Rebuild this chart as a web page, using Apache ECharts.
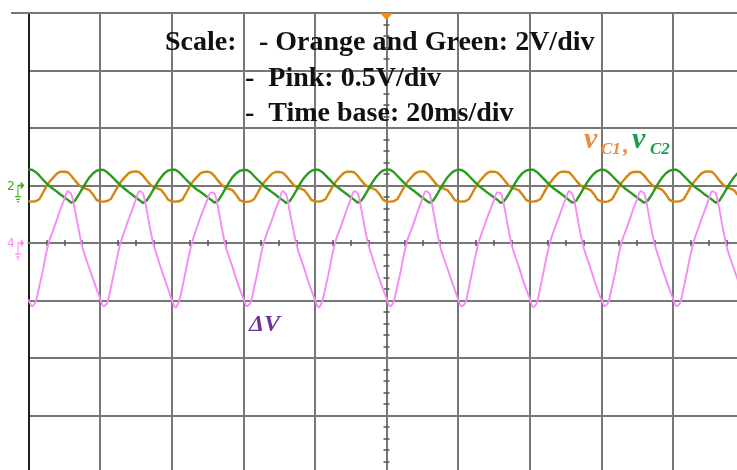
<!DOCTYPE html>
<html>
<head>
<meta charset="utf-8">
<title>Capacitor voltages and ΔV</title>
<script src="https://cdn.jsdelivr.net/npm/echarts@6.0.0/dist/echarts.min.js"></script>
<style>
  html, body { margin: 0; padding: 0; background: #ffffff; }
  #scope { width: 737px; height: 470px; }
</style>
</head>
<body>
<div id="scope"></div>
<script>
// Acquisition: one sample per millisecond, 0 .. 200 ms (10 divisions of 20 ms)
const SAMPLE_STEP_MS = 1;
const TIME_PER_DIV_MS = 20;
const DIVS_X = 10;
const DIVS_Y = 8;

// Channel settings
const VOLTS_PER_DIV_C = 2;      // orange and green
const VOLTS_PER_DIV_DV = 0.5;   // pink
const GROUND_DIV_C = 1;         // capacitor channels' ground, divisions above centre
const GROUND_DIV_DV = 0;        // ΔV ground at centre

// v_C1 (orange), volts, one row per 20 ms
const vC1 = [
  -0.55, -0.56, -0.55, -0.48, -0.26, -0.03, 0.15, 0.29, 0.42, 0.48, 0.48, 0.46, 0.33, 0.17, 0.03, -0.07, -0.11, -0.16, -0.31, -0.50,
  -0.56, -0.56, -0.54, -0.47, -0.25, -0.02, 0.16, 0.30, 0.43, 0.48, 0.49, 0.46, 0.34, 0.18, 0.04, -0.06, -0.10, -0.15, -0.30, -0.49,
  -0.55, -0.56, -0.55, -0.49, -0.27, -0.04, 0.15, 0.29, 0.42, 0.47, 0.48, 0.45, 0.32, 0.16, 0.02, -0.08, -0.12, -0.17, -0.32, -0.51,
  -0.56, -0.57, -0.55, -0.48, -0.26, -0.03, 0.14, 0.28, 0.41, 0.47, 0.47, 0.45, 0.33, 0.17, 0.03, -0.07, -0.11, -0.16, -0.31, -0.50,
  -0.55, -0.56, -0.54, -0.47, -0.25, -0.02, 0.16, 0.30, 0.43, 0.48, 0.48, 0.46, 0.33, 0.17, 0.03, -0.06, -0.10, -0.15, -0.30, -0.49,
  -0.56, -0.56, -0.55, -0.48, -0.26, -0.03, 0.15, 0.29, 0.42, 0.48, 0.49, 0.46, 0.34, 0.18, 0.03, -0.07, -0.11, -0.16, -0.31, -0.50,
  -0.55, -0.56, -0.55, -0.48, -0.26, -0.03, 0.15, 0.29, 0.42, 0.48, 0.48, 0.45, 0.33, 0.17, 0.02, -0.08, -0.12, -0.17, -0.32, -0.50,
  -0.56, -0.56, -0.54, -0.47, -0.25, -0.02, 0.15, 0.30, 0.43, 0.48, 0.48, 0.46, 0.33, 0.17, 0.03, -0.07, -0.11, -0.16, -0.31, -0.50,
  -0.55, -0.57, -0.55, -0.48, -0.26, -0.03, 0.15, 0.29, 0.42, 0.47, 0.48, 0.46, 0.34, 0.18, 0.04, -0.06, -0.10, -0.15, -0.30, -0.49,
  -0.56, -0.56, -0.55, -0.48, -0.27, -0.04, 0.14, 0.29, 0.42, 0.48, 0.49, 0.47, 0.34, 0.17, 0.03, -0.07, -0.11, -0.16, -0.31, -0.50,
  -0.55
];

// v_C2 (green), volts
const vC2 = [
  0.55, 0.55, 0.47, 0.35, 0.21, 0.08, -0.04, -0.13, -0.22, -0.32, -0.41, -0.50, -0.60, -0.53, -0.33, -0.12, 0.09, 0.28, 0.42, 0.51,
  0.55, 0.54, 0.46, 0.34, 0.22, 0.09, -0.03, -0.13, -0.23, -0.32, -0.42, -0.51, -0.61, -0.52, -0.34, -0.12, 0.10, 0.28, 0.43, 0.52,
  0.55, 0.55, 0.47, 0.34, 0.21, 0.08, -0.04, -0.14, -0.22, -0.31, -0.41, -0.50, -0.60, -0.52, -0.33, -0.11, 0.10, 0.29, 0.42, 0.51,
  0.54, 0.54, 0.46, 0.33, 0.20, 0.08, -0.05, -0.14, -0.23, -0.32, -0.42, -0.51, -0.61, -0.54, -0.35, -0.13, 0.09, 0.27, 0.41, 0.51,
  0.55, 0.55, 0.47, 0.35, 0.22, 0.09, -0.03, -0.12, -0.22, -0.31, -0.41, -0.50, -0.60, -0.52, -0.33, -0.12, 0.10, 0.28, 0.42, 0.52,
  0.56, 0.55, 0.47, 0.34, 0.21, 0.08, -0.04, -0.13, -0.22, -0.32, -0.42, -0.51, -0.60, -0.53, -0.34, -0.12, 0.09, 0.28, 0.42, 0.51,
  0.55, 0.54, 0.46, 0.34, 0.21, 0.08, -0.04, -0.13, -0.23, -0.32, -0.41, -0.50, -0.61, -0.52, -0.33, -0.12, 0.10, 0.29, 0.43, 0.52,
  0.55, 0.55, 0.47, 0.35, 0.22, 0.09, -0.04, -0.13, -0.22, -0.31, -0.41, -0.51, -0.60, -0.53, -0.33, -0.11, 0.10, 0.28, 0.42, 0.51,
  0.55, 0.54, 0.46, 0.34, 0.21, 0.08, -0.04, -0.14, -0.23, -0.32, -0.42, -0.51, -0.60, -0.52, -0.34, -0.12, 0.09, 0.28, 0.42, 0.51,
  0.55, 0.55, 0.47, 0.34, 0.21, 0.08, -0.04, -0.13, -0.22, -0.32, -0.41, -0.50, -0.60, -0.53, -0.33, -0.12, 0.10, 0.28, 0.42, 0.52,
  0.55
];

// ΔV (pink), volts
const deltaV = [
  -0.49, -0.55, -0.51, -0.38, -0.24, -0.08, 0.04, 0.12, 0.21, 0.30, 0.38, 0.45, 0.42, 0.28, 0.12, -0.03, -0.13, -0.22, -0.31, -0.40,
  -0.48, -0.55, -0.52, -0.39, -0.24, -0.09, 0.03, 0.12, 0.21, 0.29, 0.38, 0.45, 0.43, 0.29, 0.12, -0.02, -0.12, -0.22, -0.31, -0.40,
  -0.49, -0.56, -0.51, -0.38, -0.23, -0.08, 0.04, 0.13, 0.22, 0.30, 0.38, 0.44, 0.43, 0.30, 0.13, -0.02, -0.12, -0.21, -0.31, -0.40,
  -0.48, -0.55, -0.52, -0.39, -0.25, -0.09, 0.03, 0.12, 0.20, 0.29, 0.37, 0.45, 0.42, 0.27, 0.11, -0.03, -0.13, -0.22, -0.32, -0.41,
  -0.49, -0.56, -0.51, -0.38, -0.24, -0.08, 0.04, 0.12, 0.21, 0.30, 0.38, 0.45, 0.43, 0.29, 0.12, -0.02, -0.12, -0.22, -0.31, -0.40,
  -0.48, -0.55, -0.51, -0.38, -0.24, -0.08, 0.04, 0.12, 0.21, 0.30, 0.38, 0.45, 0.43, 0.29, 0.12, -0.03, -0.13, -0.22, -0.31, -0.40,
  -0.49, -0.55, -0.52, -0.39, -0.24, -0.09, 0.03, 0.12, 0.21, 0.29, 0.37, 0.44, 0.43, 0.30, 0.13, -0.02, -0.12, -0.21, -0.31, -0.40,
  -0.48, -0.56, -0.52, -0.38, -0.23, -0.08, 0.04, 0.13, 0.21, 0.30, 0.38, 0.45, 0.42, 0.28, 0.11, -0.03, -0.13, -0.22, -0.32, -0.41,
  -0.49, -0.55, -0.51, -0.38, -0.24, -0.08, 0.04, 0.12, 0.21, 0.30, 0.38, 0.45, 0.43, 0.29, 0.12, -0.02, -0.12, -0.22, -0.31, -0.40,
  -0.48, -0.55, -0.52, -0.39, -0.24, -0.09, 0.03, 0.12, 0.21, 0.29, 0.38, 0.45, 0.43, 0.29, 0.12, -0.03, -0.13, -0.22, -0.31, -0.40,
  -0.49
];

// Annotation texts
const scaleLines = [
  'Scale:',
  '- Orange and Green: 2V/div',
  '-  Pink: 0.5V/div',
  '-  Time base: 20ms/div'
];
const channelTags = { vC2: '2', deltaV: '4' };

// ---- layout & style ----
const GRID = { left: 28.5, top: 13, divW: 71.6, divH: 57.5 };
const GRID_COLOR = '#777777';
const C_ORANGE = '#d5860e';
const C_GREEN = '#2a9b1c';
const C_PINK = '#f68af6';
const SERIF = '"Liberation Serif", "Times New Roman", serif';

const tMax = DIVS_X * TIME_PER_DIV_MS;
const halfY = DIVS_Y / 2;

function toPairs(values) {
  return values.map((v, i) => [i * SAMPLE_STEP_MS, v]);
}

// ground marker: arrow pointing at the trace's zero plus a small earth symbol
const GROUND_PATH = 'path://M8 0L13 4L8 8Z M3.4 3.3H8V4.7H3.4Z M3.4 3.3H4.8V14H3.4Z ' +
  'M0 14H8.2V15.3H0Z M1.5 16.5H6.7V17.8H1.5Z M2.8 18.8H5.4V20H2.8Z';

function groundMarker(color, tag) {
  return {
    coord: [0, 0],
    symbol: GROUND_PATH,
    symbolSize: [14, 21],
    symbolKeepAspect: true,
    symbolOffset: [-8.8, 6.3],
    itemStyle: { color: color },
    label: {
      show: true, formatter: tag, position: 'inside', offset: [-9, -5],
      color: color, fontSize: 12, fontFamily: 'DejaVu Sans'
    }
  };
}

const centreTickX = (inside) => ({
  type: 'value', gridIndex: 0, min: 0, max: tMax, interval: TIME_PER_DIV_MS,
  position: 'bottom',
  axisLine: { show: true, onZero: true, onZeroAxisIndex: 0, lineStyle: { color: GRID_COLOR, width: 2 } },
  axisTick: { show: false, inside: inside },
  minorTick: { show: true, splitNumber: 4, length: 3, lineStyle: { color: '#555555', width: 1.5 } },
  axisLabel: { show: false }, splitLine: { show: false }, minorSplitLine: { show: false }
});

const centreTickY = (inside) => ({
  type: 'value', gridIndex: 0, min: -halfY, max: halfY, interval: 1,
  position: 'left',
  axisLine: { show: true, onZero: true, onZeroAxisIndex: 1, lineStyle: { color: GRID_COLOR, width: 2 } },
  axisTick: { show: false, inside: inside },
  minorTick: { show: true, splitNumber: 5, length: 3, lineStyle: { color: '#555555', width: 1.5 } },
  axisLabel: { show: false }, splitLine: { show: false }, minorSplitLine: { show: false }
});

const chart = echarts.init(document.getElementById('scope'), null, { renderer: 'canvas' });

const option = {
  backgroundColor: '#ffffff',
  animation: false,
  grid: {
    left: GRID.left, top: GRID.top,
    width: GRID.divW * DIVS_X, height: GRID.divH * DIVS_Y,
    containLabel: false,
    outerBoundsMode: 'none'
  },
  xAxis: [
    { // time axis carrying the vertical graticule
      type: 'value', min: 0, max: tMax, interval: TIME_PER_DIV_MS, position: 'top',
      axisLine: { show: true, onZero: false, lineStyle: { color: GRID_COLOR, width: 2 } },
      axisTick: { show: false }, axisLabel: { show: false },
      splitLine: { show: true, lineStyle: { color: GRID_COLOR, width: 2 } }
    },
    { // centred reference for the vertical centre line
      type: 'value', min: -tMax / 2, max: tMax / 2, position: 'bottom',
      axisLine: { show: false, onZero: false }, axisTick: { show: false },
      axisLabel: { show: false }, splitLine: { show: false }
    },
    centreTickX(true),
    centreTickX(false)
  ],
  yAxis: [
    { // divisions, horizontal graticule and dark left border
      type: 'value', min: -halfY, max: halfY, interval: 1, position: 'left',
      axisLine: { show: true, onZero: false, lineStyle: { color: '#1e1e1e', width: 2 } },
      axisTick: { show: false }, axisLabel: { show: false },
      splitLine: { show: true, lineStyle: { color: GRID_COLOR, width: 2 } }
    },
    { // capacitor voltages
      type: 'value', show: false, position: 'left',
      min: -(halfY + GROUND_DIV_C) * VOLTS_PER_DIV_C,
      max: (halfY - GROUND_DIV_C) * VOLTS_PER_DIV_C
    },
    { // ΔV
      type: 'value', show: false, position: 'right',
      min: -(halfY + GROUND_DIV_DV) * VOLTS_PER_DIV_DV,
      max: (halfY - GROUND_DIV_DV) * VOLTS_PER_DIV_DV
    },
    centreTickY(true),
    centreTickY(false)
  ],
  series: [
    {
      name: 'vC1', type: 'line', xAxisIndex: 0, yAxisIndex: 1,
      data: toPairs(vC1), showSymbol: false, smooth: false, clip: true,
      lineStyle: { color: C_ORANGE, width: 2.4 },
      markPoint: {
        silent: true, animation: false,
        data: [{
          coord: [tMax / 2, (halfY - GROUND_DIV_C) * VOLTS_PER_DIV_C],
          symbol: 'triangle', symbolRotate: 180, symbolSize: [13, 7], symbolOffset: [0, 3.5],
          itemStyle: { color: '#ff8a00' }, label: { show: false }
        }]
      }
    },
    {
      name: 'vC2', type: 'line', xAxisIndex: 0, yAxisIndex: 1,
      data: toPairs(vC2), showSymbol: false, smooth: false, clip: true,
      lineStyle: { color: C_GREEN, width: 2.4 },
      markPoint: { silent: true, animation: false, data: [groundMarker('#3aae14', channelTags.vC2)] }
    },
    {
      name: 'ΔV', type: 'line', xAxisIndex: 0, yAxisIndex: 2,
      data: toPairs(deltaV), showSymbol: false, smooth: 0.3, clip: true,
      lineStyle: { color: C_PINK, width: 1.9 },
      markPoint: { silent: true, animation: false, data: [groundMarker('#ff86ff', channelTags.deltaV)] }
    }
  ],
  graphic: [
    { // frame line running past the left border
      type: 'line', silent: true, z: 1,
      shape: { x1: 11, y1: GRID.top, x2: GRID.left, y2: GRID.top },
      style: { stroke: GRID_COLOR, lineWidth: 2 }
    },
    { type: 'text', x: 165, y: 42.5, z: 10, style: { text: scaleLines[0], font: 'bold 28px ' + SERIF, fill: '#111111', verticalAlign: 'middle' } },
    { type: 'text', x: 259, y: 42.5, z: 10, style: { text: scaleLines[1], font: 'bold 28px ' + SERIF, fill: '#111111', verticalAlign: 'middle' } },
    { type: 'text', x: 245, y: 78.5, z: 10, style: { text: scaleLines[2], font: 'bold 28px ' + SERIF, fill: '#111111', verticalAlign: 'middle' } },
    { type: 'text', x: 245, y: 114, z: 10, style: { text: scaleLines[3], font: 'bold 28px ' + SERIF, fill: '#111111', verticalAlign: 'middle' } },
    // trace names
    { type: 'text', x: 584, y: 140, z: 10, style: { text: 'v', font: 'bold italic 30px ' + SERIF, fill: '#ef8a3a', verticalAlign: 'middle' } },
    { type: 'text', x: 601, y: 150, z: 10, style: { text: 'C1', font: 'bold italic 17px ' + SERIF, fill: '#ef8a3a', verticalAlign: 'middle' } },
    { type: 'text', x: 623, y: 146, z: 10, style: { text: ',', font: 'bold italic 24px ' + SERIF, fill: '#ef8a3a', verticalAlign: 'middle' } },
    { type: 'text', x: 632, y: 140, z: 10, style: { text: 'v', font: 'bold italic 30px ' + SERIF, fill: '#16a04c', verticalAlign: 'middle' } },
    { type: 'text', x: 650, y: 150, z: 10, style: { text: 'C2', font: 'bold italic 17px ' + SERIF, fill: '#16a04c', verticalAlign: 'middle' } },
    { type: 'text', x: 249, y: 325, z: 10, style: { text: 'ΔV', font: 'bold italic 24px ' + SERIF, fill: '#7030a0', verticalAlign: 'middle' } }
  ]
};

chart.setOption(option);
</script>
</body>
</html>
